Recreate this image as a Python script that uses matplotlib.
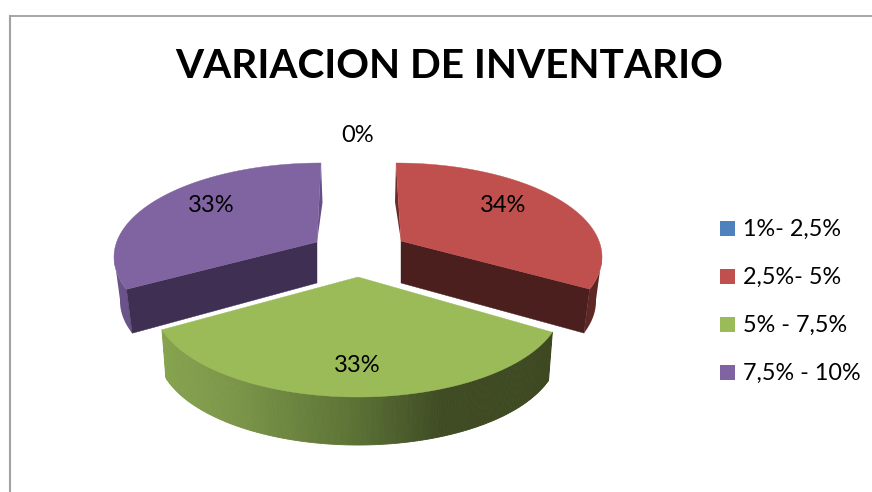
"""Grafico de torta 3D: variacion de inventario."""
import matplotlib
matplotlib.use("Agg")
import matplotlib.pyplot as plt
import numpy as np
from matplotlib.collections import PolyCollection
from matplotlib.colors import LinearSegmentedColormap
from matplotlib.patches import Polygon, Rectangle

plt.rcParams["font.family"] = ["Lato", "DejaVu Sans"]

titulo = "VARIACION DE INVENTARIO"
categorias = ["1%- 2,5%", "2,5%- 5%", "5% - 7,5%", "7,5% - 10%"]
valores = [0.0, 33.6, 33.2, 33.2]
colores = ["#4f81bd", "#c0504d", "#9bbb59", "#8064a2"]

# geometria de cada porcion en pixeles: centro de la elipse, vertice, perspectiva
geo = {
    1: dict(c=(396, 257), rx=206, ry=94, apice=(401, 241), a=0.21, prof=44, enc=6,
            muro="#4c1f1f", borde="#5e2725", lasca="#6b2c2a", bulto=-3.5, muro_prof=42),
    2: dict(c=(358, 304), rx=204, ry=93, apice=(358, 277), a=0.25, prof=48, enc=4),
    3: dict(c=(321, 257), rx=207, ry=94, apice=(317, 242), a=0.18, prof=44, enc=6,
            muro="#3f2f52", borde="#6a5389", lasca="#664f88", bulto=3.5, muro_prof=41),
}
pos_etiqueta = [(358, 135), (503, 205), (357, 365), (211, 205)]
degradado = LinearSegmentedColormap.from_list(
    "lado_verde",
    [(0.0, "#86a34f"), (0.18, "#7c9649"), (0.48, "#5d7436"), (0.72, "#3f4b23"), (1.0, "#3e4922")],
)


def proyectar(theta, a):
    # theta en grados desde las 12, sentido horario; devuelve punto sobre circulo unidad
    t = np.radians(theta)
    x, y = np.sin(t), np.cos(t)
    d = 1 + a * y
    return x * np.sqrt(1 - a**2) / d, (y + a) / d


def contorno(g, xp, yp, abajo=False):
    cx, cy = g["c"]
    rx = g["rx"] - (g["enc"] if abajo else 0)
    cy = cy + (g["prof"] if abajo else 0)
    return np.column_stack([cx + rx * xp, cy - g["ry"] * yp])


fig = plt.figure(figsize=(8.72, 4.92), dpi=100)
ax = fig.add_axes([0, 0, 1, 1])
ax.set_xlim(0, 872)
ax.set_ylim(492, 0)
ax.axis("off")

# marco
ax.plot([9.5, 872], [15.5, 15.5], color="#8e8e8e", lw=1.1)
ax.plot([9.5, 9.5], [15.5, 492], color="#a2a2a2", lw=1.5)

ax.text(449, 66, titulo, fontsize=29.2, fontweight="bold", ha="center", va="center", color="black")

inicio = np.cumsum([0.0] + valores[:-1]) / sum(valores) * 360
barrido = np.array(valores) / sum(valores) * 360

for i in [3, 1, 2]:
    g = geo[i]
    th = np.linspace(inicio[i], inicio[i] + barrido[i], 200)
    xp, yp = proyectar(th, g["a"])
    arriba = contorno(g, xp, yp)
    abajo = contorno(g, xp, yp, abajo=True)

    if i == 2:
        # lado frontal con degradado
        quads = [
            [arriba[j], arriba[j + 1], abajo[j + 1], abajo[j]] for j in range(len(th) - 1)
        ]
        quads = quads[::-1]
        xm = np.array([np.mean(np.array(q)[:, 0]) for q in quads])
        pc = PolyCollection(quads, cmap=degradado, linewidths=0.6)
        pc.set_array((xm - xm.min()) / (xm.max() - xm.min()))
        pc.set_edgecolor("face")
        ax.add_collection(pc)
    else:
        ax_, ay_ = g["apice"]
        fin_a, fin_b = (arriba[-1], abajo[-1]) if i == 1 else (arriba[0], abajo[0])
        # lasca trasera junto al corte vertical
        tope = arriba[0] if i == 1 else arriba[-1]
        medio = ((tope[0] + ax_) / 2 + g["bulto"], (tope[1] + ay_) / 2)
        ax.add_patch(Polygon([tope, medio, (ax_, ay_)], fc=g["lasca"], lw=0))
        # borde exterior
        m = yp <= 0.02
        ax.add_patch(Polygon(np.vstack([arriba[m], abajo[m][::-1]]), fc=g["borde"], lw=0))
        # muro interior
        ax.add_patch(Polygon(
            [(ax_, ay_), fin_a, fin_b, (ax_, ay_ + g["muro_prof"])], fc=g["muro"], ec=g["muro"], lw=0.3,
        ))

    ax.add_patch(Polygon(np.vstack([[g["apice"]], arriba]), fc=colores[i], ec=colores[i], lw=0.3))

for v, (x, y) in zip(valores, pos_etiqueta):
    ax.text(x, y, f"{v:.0f}%", fontsize=17, ha="center", va="center", color="black")

for k, cat in enumerate(categorias):
    y = 221 + 48 * k
    ax.add_patch(Rectangle((720, y), 15, 15, fc=colores[k], lw=0))
    ax.text(743, y + 8, cat, fontsize=16.8, ha="left", va="center", color="black")

fig.savefig("out.png", dpi=100)
plt.close(fig)
